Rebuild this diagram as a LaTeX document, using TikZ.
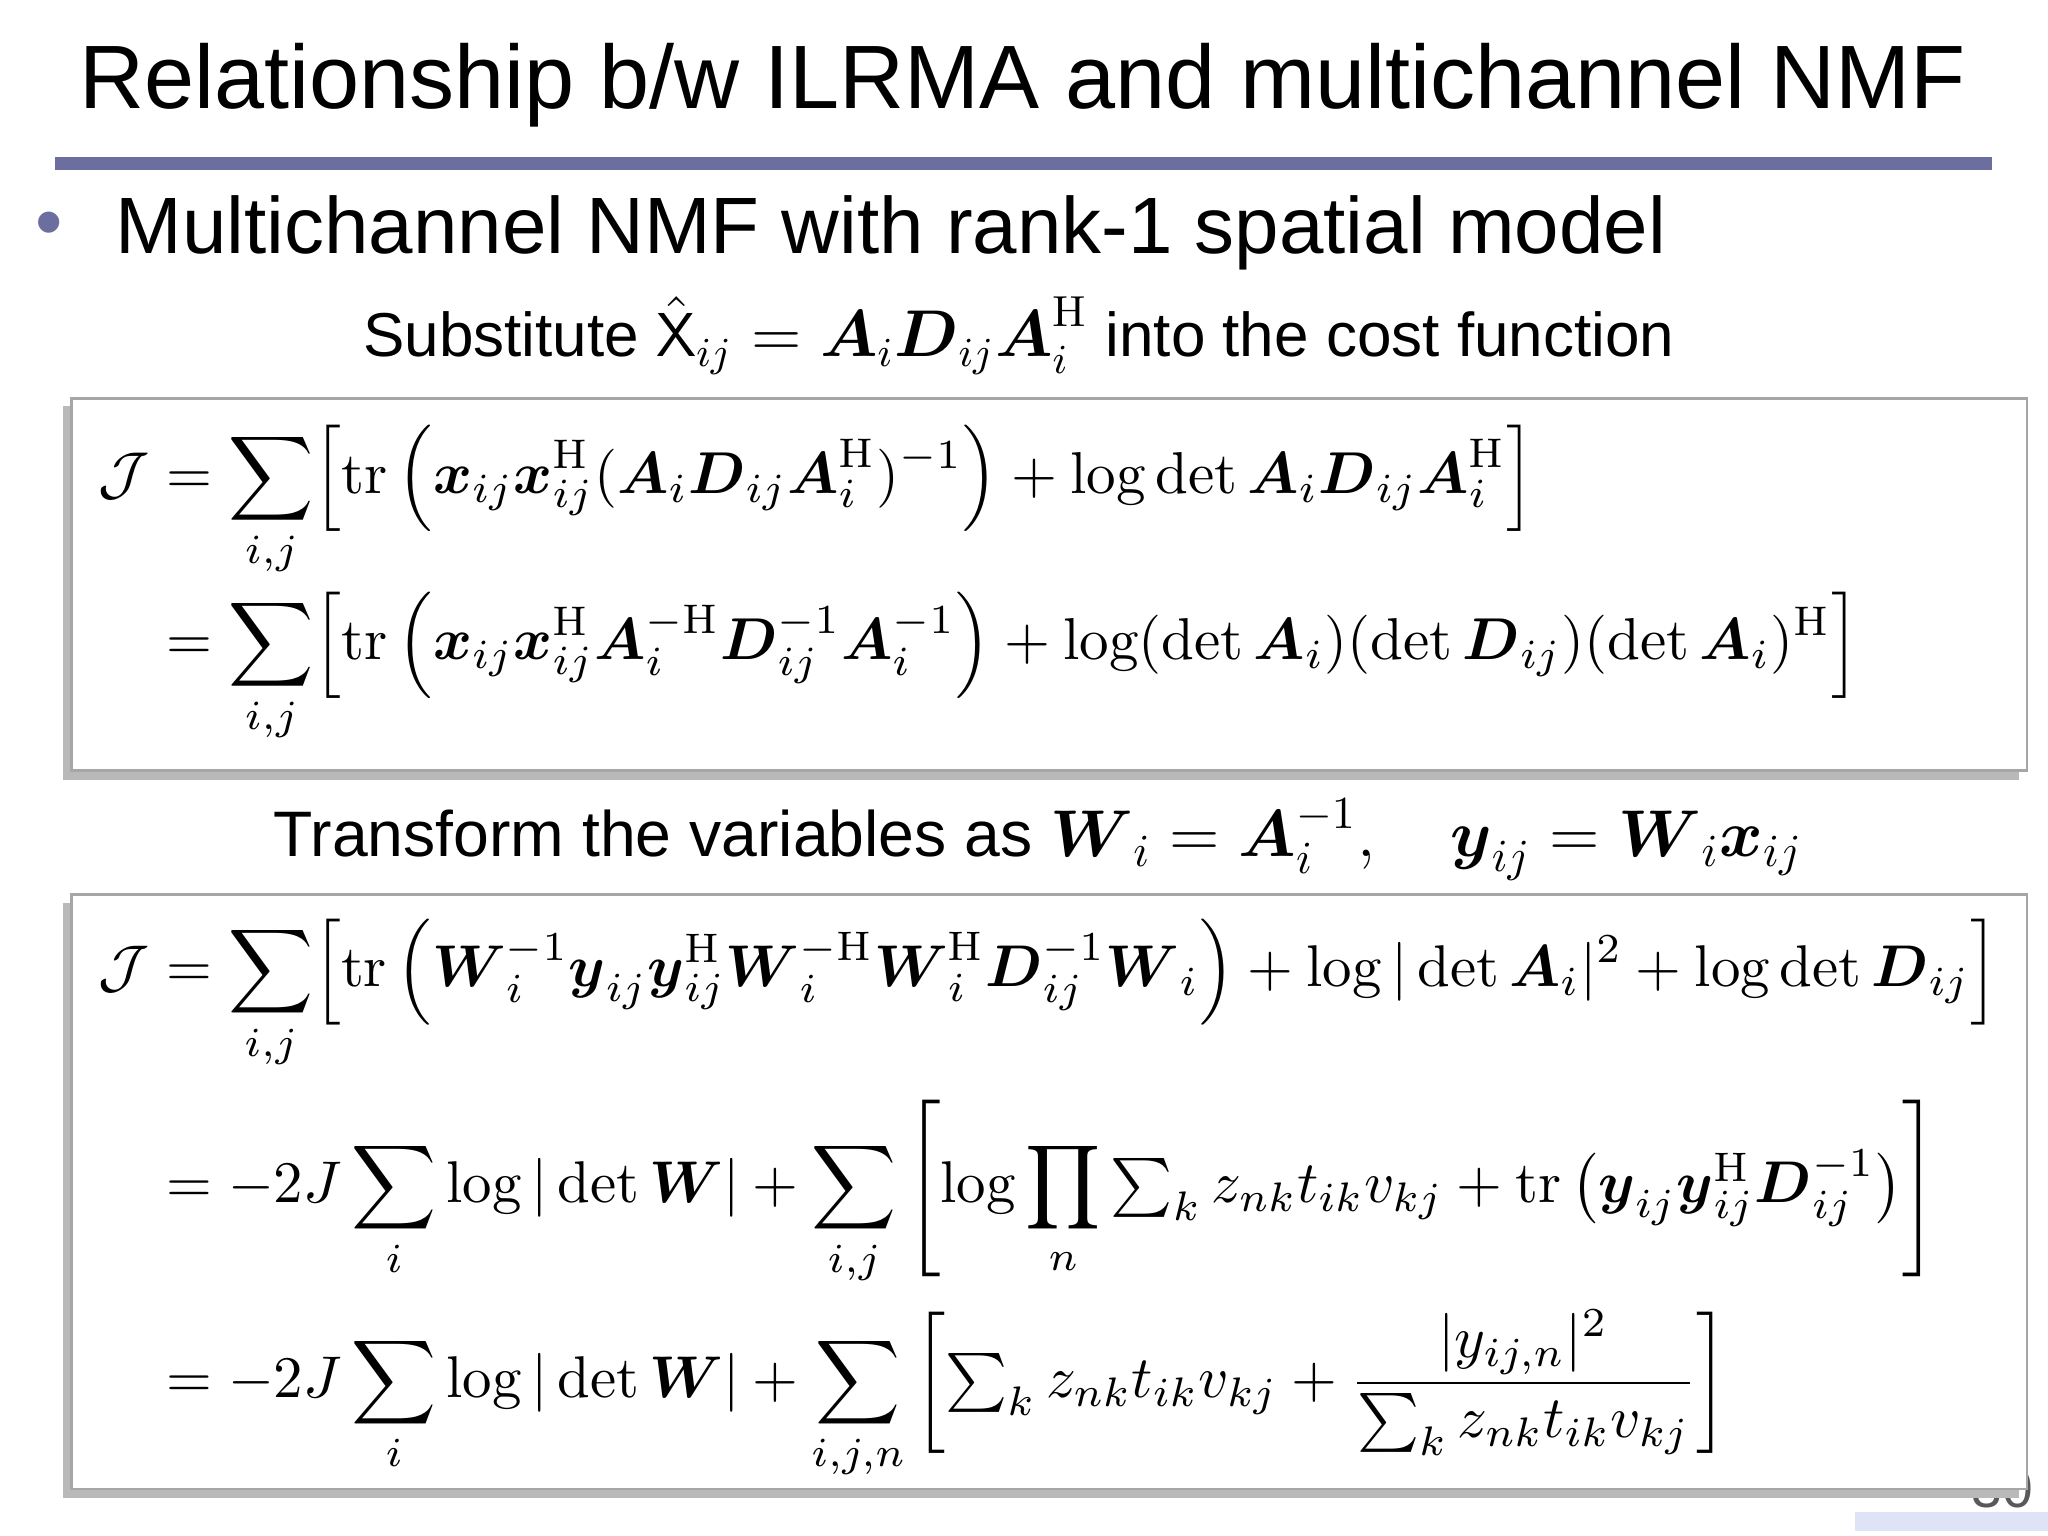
\documentclass[tikz,border=0pt]{standalone}
\usepackage{amsmath,amssymb}
\usepackage{fontspec}
\setmainfont{Liberation Sans}
\setmathrm{Latin Modern Roman}
\usetikzlibrary{positioning}
\definecolor{rulecol}{RGB}{108,110,160}
\definecolor{pagebar}{RGB}{222,228,246}
\newcommand{\bv}[1]{\boldsymbol{#1}}
\newcommand{\Hm}{\mathrm{H}}
\tikzset{
	eqbox/.style={draw=gray!70,line width=0.6pt,fill=white},
	shadowbox/.style={fill=gray!55},
	slidetext/.style={inner sep=0pt,font=\fontsize{14pt}{16pt}\selectfont}
}
\begin{document}
\begin{tikzpicture}[x=0.01cm,y=-0.01cm]
	\useasboundingbox (0,0) rectangle (1568,1176);
	% title and rule
	\node[inner sep=0pt,font=\fontsize{19.6pt}{24pt}\selectfont] (title) at (783,65) {Relationship b/w ILRMA and multichannel NMF};
	\fill[rulecol] (42,120) rectangle (1525,130);
	% bullet
	\node[inner sep=0pt,text=rulecol,font=\fontsize{17pt}{20pt}\selectfont] (dot) at (38,176) {\textbullet};
	\node[slidetext,anchor=west,font=\fontsize{17.4pt}{20pt}\selectfont] (bullet) at (88,178) {Multichannel NMF with rank-1 spatial model};
	\node[slidetext,font=\fontsize{13.5pt}{16pt}\selectfont] (subst) at (780,257) {Substitute $\hat{\mathsf{X}}_{ij}=\bv{A}_i\bv{D}_{ij}\bv{A}_i^{\Hm}$ into the cost function};
	% page number
	\fill[pagebar] (1420,1158) rectangle (1568,1172);
	\node[inner sep=0pt,text=gray!70!black,font=\fontsize{12pt}{14pt}\selectfont] (page) at (1533,1140) {30};
	% first box
	\fill[shadowbox] (48,311) rectangle (1546,597);
	\draw[eqbox] (55,305) rectangle (1552,590);
	\node[inner sep=0pt,anchor=north west] (eqa) at (75,325) {\resizebox{13.47cm}{!}{$\begin{aligned}
		\mathcal{J} &= \sum_{i,j}\Bigl[\mathrm{tr}\left(\bv{x}_{ij}\bv{x}_{ij}^{\Hm}(\bv{A}_i\bv{D}_{ij}\bv{A}_i^{\Hm})^{-1}\right)+\log\det\bv{A}_i\bv{D}_{ij}\bv{A}_i^{\Hm}\Bigr]\\[-1.5pt]
		&= \sum_{i,j}\Bigl[\mathrm{tr}\left(\bv{x}_{ij}\bv{x}_{ij}^{\Hm}\bv{A}_i^{-\Hm}\bv{D}_{ij}^{-1}\bv{A}_i^{-1}\right)+\log(\det\bv{A}_i)(\det\bv{D}_{ij})(\det\bv{A}_i)^{\Hm}\Bigr]
	\end{aligned}$}};
	\node[slidetext] (trans) at (795,643) {Transform the variables as $\bv{W}_i=\bv{A}_i^{-1},\quad\bv{y}_{ij}=\bv{W}_i\bv{x}_{ij}$};
	% second box
	\fill[shadowbox] (48,691) rectangle (1546,1147);
	\draw[eqbox] (55,685) rectangle (1552,1140);
	\node[inner sep=0pt,anchor=north west] (eqb) at (75,703) {\resizebox{14.53cm}{!}{$\begin{aligned}
		\mathcal{J} &= \sum_{i,j}\Bigl[\mathrm{tr}\left(\bv{W}_i^{-1}\bv{y}_{ij}\bv{y}_{ij}^{\Hm}\bv{W}_i^{-\Hm}\bv{W}_i^{\Hm}\bv{D}_{ij}^{-1}\bv{W}_i\right)+\log|\det\bv{A}_i|^2+\log\det\bv{D}_{ij}\Bigr]\\[1pt]
		&= -2J\sum_i\log|\det\bv{W}|+\sum_{i,j}\left[\log\prod_n\textstyle\sum_k z_{nk}t_{ik}v_{kj}+\mathrm{tr}\left(\bv{y}_{ij}\bv{y}_{ij}^{\Hm}\bv{D}_{ij}^{-1}\right)\right]\\[0pt]
		&= -2J\sum_i\log|\det\bv{W}|+\sum_{i,j,n}\left[\textstyle\sum_k z_{nk}t_{ik}v_{kj}+\dfrac{|y_{ij,n}|^2}{\sum_k z_{nk}t_{ik}v_{kj}}\right]
	\end{aligned}$}};
\end{tikzpicture}
\end{document}
